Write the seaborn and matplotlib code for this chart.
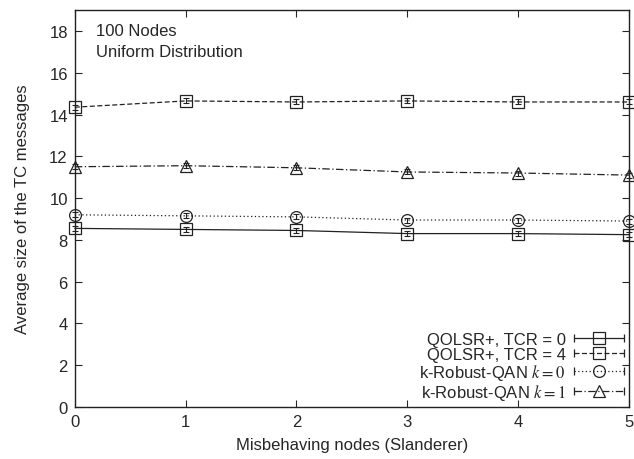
import numpy as np
import pandas as pd
import matplotlib
matplotlib.use('Agg')
import matplotlib.pyplot as plt
import seaborn as sns
from matplotlib.lines import Line2D
from matplotlib.legend_handler import HandlerLine2D, HandlerTuple

# Dados
x_nodes = [0, 1, 2, 3, 4, 5]
tcr0 = [8.55, 8.50, 8.45, 8.30, 8.30, 8.25]
tcr4 = [14.35, 14.65, 14.60, 14.65, 14.60, 14.60]
k0 = [9.20, 9.15, 9.10, 8.95, 8.95, 8.90]
k1 = [11.50, 11.55, 11.45, 11.25, 11.20, 11.10]
err = [0.12, 0.12, 0.12, 0.12, 0.12, 0.12]

labels = ['QOLSR+, TCR = 0', 'QOLSR+, TCR = 4',
          r'k-Robust-QAN $\mathit{k=0}$', r'k-Robust-QAN $\mathit{k=1}$']
series = [tcr0, tcr4, k0, k1]

sns.set_style('ticks')
plt.rcParams['font.family'] = ['Liberation Sans', 'DejaVu Sans']
plt.rcParams['mathtext.fontset'] = 'stix'

cor = '#222222'

df = pd.DataFrame({
    'x': x_nodes * 4,
    'y': tcr0 + tcr4 + k0 + k1,
    'serie': sum([[l] * len(x_nodes) for l in labels], []),
})

markers = {labels[0]: 's', labels[1]: 's', labels[2]: 'o', labels[3]: '^'}
dashes = {labels[0]: '', labels[1]: (4, 2), labels[2]: (1, 2), labels[3]: (6, 2, 1, 2)}

fig = plt.figure(figsize=(6.34, 4.6), dpi=100)
ax = fig.add_axes([0.118, 0.113, 0.874, 0.863])

sns.lineplot(data=df, x='x', y='y', style='serie', markers=markers, dashes=dashes,
             color=cor, linewidth=0.9, markersize=8.5, markerfacecolor='none',
             markeredgecolor=cor, markeredgewidth=0.9, ax=ax, legend=False)
for ln in ax.lines:
    ln.set_clip_on(False)

for vals in series:
    eb = ax.errorbar(x_nodes, vals, yerr=err, fmt='none', ecolor=cor,
                     elinewidth=0.8, capsize=2.5, capthick=0.8)
    for art in eb.lines[1] + eb.lines[2]:
        art.set_clip_on(False)

# Legenda manual: linha com marcador no meio e barras nas pontas
handles = []
hmap = {}
for l in labels:
    ls = (0, dashes[l]) if dashes[l] else '-'
    h_mark = Line2D([0], [0], color=cor, linewidth=0.9, linestyle=ls,
                    marker=markers[l], markersize=8.5, markerfacecolor='none',
                    markeredgecolor=cor, markeredgewidth=0.9)
    h_caps = Line2D([0], [0], color=cor, linewidth=0.9, linestyle='none',
                    marker='|', markersize=6, markeredgewidth=0.9)
    hmap[h_mark] = HandlerLine2D(numpoints=1)
    hmap[h_caps] = HandlerLine2D(numpoints=2, marker_pad=0)
    handles.append((h_mark, h_caps))
hmap[tuple] = HandlerTuple(ndivide=1, pad=0)

leg = ax.legend(handles, labels, handler_map=hmap, loc='lower right', frameon=False,
                markerfirst=False, fontsize=12, handlelength=3.0, labelspacing=0.0,
                borderaxespad=0.1, handletextpad=0.5, borderpad=0.2)

ax.text(0.19, 18.0, '100 Nodes', fontsize=12, va='center')
ax.text(0.19, 17.0, 'Uniform Distribution', fontsize=12, va='center')

ax.set_xlim(0, 5)
ax.set_ylim(0, 19)
ax.set_yticks(np.arange(0, 19, 2))
ax.set_xticks(x_nodes)
ax.tick_params(direction='in', top=True, right=True, labelsize=12, length=5, width=0.8, pad=5)
for s in ax.spines.values():
    s.set_visible(True)
    s.set_linewidth(1.0)
    s.set_color(cor)
ax.set_xlabel('Misbehaving nodes (Slanderer)', fontsize=12, labelpad=6)
ax.set_ylabel('Average size of the TC messages', fontsize=12, labelpad=14)

fig.savefig('out.png', dpi=100)
